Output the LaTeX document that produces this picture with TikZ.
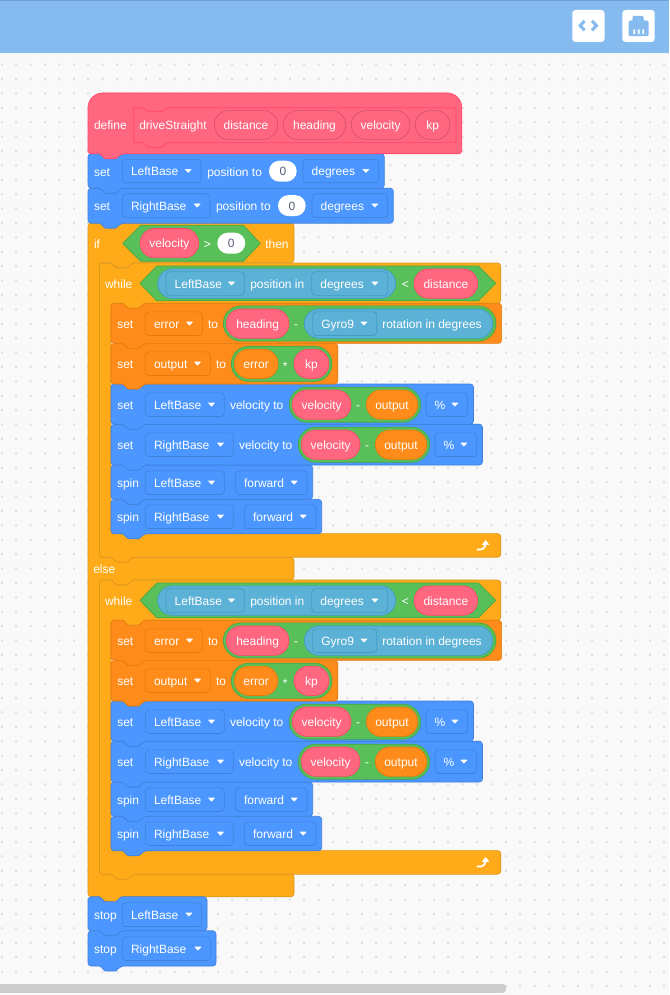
\documentclass[tikz,border=0pt]{standalone}
\usepackage{fontspec}
\setmainfont{Liberation Sans}
\definecolor{bgc}{HTML}{F9F9F9}
\definecolor{dotc}{HTML}{DFDFDF}
\definecolor{barc}{HTML}{86BBF0}
\definecolor{barl}{HTML}{6E9FD8}
\definecolor{scrollc}{HTML}{CCCCCC}
\definecolor{ctrlF}{HTML}{FFAB19}\definecolor{ctrlD}{HTML}{D9951C}
\definecolor{varF}{HTML}{FF8C1A}\definecolor{varD}{HTML}{E47A0C}
\definecolor{motF}{HTML}{4C97FF}\definecolor{motD}{HTML}{4080DB}
\definecolor{myF}{HTML}{FF6680}\definecolor{myD}{HTML}{FF4766}
\definecolor{myE}{HTML}{D9506A}
\definecolor{opF}{HTML}{59C059}\definecolor{opD}{HTML}{45A845}
\definecolor{senF}{HTML}{5CB1D6}\definecolor{senD}{HTML}{3F9CC4}
\definecolor{zeroT}{HTML}{575E75}
\tikzset{
  x=0.75pt,y=-0.75pt,
  blk/.style={line width=0.5pt,line join=round,rounded corners=2.4pt},
  ctrlb/.style={blk,fill=ctrlF,draw=ctrlD},
  varb/.style={blk,fill=varF,draw=varD},
  motb/.style={blk,fill=motF,draw=motD},
  myb/.style={blk,fill=myF,draw=myD},
  ddmot/.style={fill=motF,draw=motD},
  ddvar/.style={fill=varF,draw=varD},
  ddsen/.style={fill=senF,draw=senD},
  pmy/.style={fill=myF,draw=myD,line width=0.5pt},
  parg/.style={fill=myF,draw=myE,line width=0.5pt},
  pvar/.style={fill=varF,draw=varD,line width=0.5pt},
  psen/.style={fill=senF,draw=senD,line width=0.5pt},
  pop/.style={fill=opF,draw=opD,line width=0.5pt},
  pwhite/.style={fill=white,draw=none},
  lbl/.style={inner sep=0pt,outer sep=0pt,font=\fontsize{9}{11}\selectfont},
}
\newcounter{nn}
% left-aligned label: colour optional, x, centre y, text
\newcommand{\lab}[4][white]{\stepcounter{nn}\node[lbl,anchor=base west,text=#1] (t\thenn) at (#2,#3+4.6) {#4};}
\newcommand{\clab}[4][white]{\stepcounter{nn}\node[lbl,anchor=base,text=#1] (t\thenn) at (#2,#3+4.6) {#4};}
\newcommand{\topE}[2]{[rounded corners=0.7pt] -- (#1+12,#2) -- (#1+17,#2+5) -- (#1+28,#2+5) -- (#1+33,#2) [rounded corners=2.4pt]}
\newcommand{\botE}[2]{-- (#1+33,#2) [rounded corners=0.7pt] -- (#1+28,#2+5) -- (#1+17,#2+5) -- (#1+12,#2) [rounded corners=2.4pt]}
\newcommand{\sblock}[5]{\draw[#1] (#2,#4) \topE{#2}{#4} -- (#3,#4) -- (#3,#5) \botE{#2}{#5} -- (#2,#5) -- cycle;}
% dropdown: style, x1, x2, cy, text
\newcommand{\dd}[5]{\draw[#1,line width=0.5pt,rounded corners=2.6pt] (#2,#4-11.8) rectangle (#3,#4+11.8);
  \lab{#2+8.7}{#4}{#5}
  \fill[white,draw=white,line width=0.4pt,line join=round] (#3-15.8,#4-1.7) -- (#3-9.8,#4-1.7) -- (#3-12.8,#4+1.5) -- cycle;}
% pill without text: style, x1, x2, cy, half height
\newcommand{\pillS}[5]{\draw[#1,rounded corners=#5*0.75pt] (#2,#4-#5) rectangle (#3,#4+#5);}
% pill with centred text
\newcommand{\pillT}[6]{\pillS{#1}{#2}{#3}{#4}{#5}\clab{0.5*#2+0.5*#3}{#4}{#6}}
\newcommand{\zero}[3]{\pillS{pwhite}{#1}{#2}{#3}{10.5}\clab[zeroT]{0.5*#1+0.5*#2}{#3}{0}}
\begin{document}
\begin{tikzpicture}
\useasboundingbox (0,0) rectangle (669,995);
\fill[bgc] (0,0) rectangle (669,995);
% dotted grid
\fill[dotc] foreach \i in {0,...,46} { foreach \j in {0,...,64} {
   (1.8+\i*14.4-1,64.7+\j*14.395-1) rectangle ++(2,2) } };
% header bar
\fill[barc] (0,0) rectangle (669,53);
\fill[barl] (0,0) rectangle (669,1.3);
\fill[white!85!barc] (0,53) rectangle (669,54.2);
% code icon
\fill[white,rounded corners=2.4pt] (572.3,10) rectangle (604.5,42);
\draw[barc,line width=2.3pt,miter limit=10] (584.6,20.9) -- (580.2,25.6) -- (584.6,30.3);
\draw[barc,line width=2.3pt,miter limit=10] (592,20.9) -- (596.4,25.6) -- (592,30.3);
% port icon
\fill[white,rounded corners=2.4pt] (622.4,10) rectangle (654.7,42);
\fill[barc,rounded corners=0.8pt] (628.6,36.2) -- (628.6,20.6) -- (632.6,20.6) -- (632.6,15.8) -- (643.6,15.8) -- (643.6,20.6) -- (648.6,20.6) -- (648.6,36.2) -- cycle;
\fill[white] (633.3,29.5) rectangle (635,34) (637.8,29.5) rectangle (639.5,34) (642.3,29.5) rectangle (644,34);
% scrollbar
\fill[scrollc,rounded corners=2.5pt] (-8,984) rectangle (506,992.8);

% ---- if / else C block
\draw[ctrlb] (88,223) \topE{88}{223} -- (294,223) -- (294,262.6) \botE{99.5}{262.6} -- (99.5,262.6)
   -- (99.5,557.3) -- (294,557.3) -- (294,580) \botE{99.5}{580} -- (99.5,580) -- (99.5,874)
   -- (294,874) -- (294,896.8) \botE{88}{896.8} -- (88,896.8) -- cycle;
\lab{94}{243.7}{if}
\draw[pop,line join=round] (122.7,243.4) -- (140.7,225.3) -- (243.3,225.3) -- (260.3,243.4) -- (243.3,261.3) -- (140.7,261.3) -- cycle;
\pillT{pmy}{140}{198.7}{243.2}{14.7}{velocity}
\clab{207.3}{243.4}{>}
\zero{217.3}{245.3}{243.2}
\lab{265.3}{243.7}{then}
\lab{93.3}{568.7}{else}

% ---- the two while loops
\foreach \dy in {0,317} {
\begin{scope}[shift={(0,\dy)}]
\draw[ctrlb] (99.5,263) \topE{99.5}{263} -- (500.8,263) -- (500.8,303.3) \botE{111}{303.3} -- (111,303.3)
   -- (111,533.6) -- (500.8,533.6) -- (500.8,557.2) \botE{99.5}{557.2} -- (99.5,557.2) -- cycle;
\lab{105}{283.7}{while}
\draw[pop,line join=round] (140,283.4) -- (156.7,266) -- (478.3,266) -- (495.7,283.4) -- (478.3,300.8) -- (156.7,300.8) -- cycle;
\pillS{psen}{157.7}{395.7}{283.6}{14.7}
\dd{ddsen}{166}{244.3}{283.6}{LeftBase}
\lab{250.3}{283.7}{position in}
\dd{ddsen}{311.7}{387.7}{283.6}{degrees}
\clab{405.3}{283.6}{<}
\pillT{pmy}{414}{477.7}{283.6}{14.7}{distance}
% loop arrow
\draw[white,line width=1.35pt,line cap=round] (477.5,549.6) .. controls (482,550) and (485.3,548.5) .. (485.3,544);
\fill[white] (481.8,544.8) -- (485.7,540) -- (489.3,544.8) -- cycle;

% spin RightBase
\sblock{motb}{111}{321.7}{499.3}{533.8}
\lab{117}{516.7}{spin}
\dd{ddmot}{145.3}{233.3}{516.7}{RightBase}
\dd{ddmot}{244.3}{316}{516.7}{forward}
% spin LeftBase
\sblock{motb}{111}{312.7}{465}{499.3}
\lab{117}{482.7}{spin}
\dd{ddmot}{145.3}{224.3}{482.7}{LeftBase}
\dd{ddmot}{235.3}{307}{482.7}{forward}
% set RightBase velocity
\sblock{motb}{111}{482.5}{424.2}{465}
\lab{117.3}{444.7}{set}
\dd{ddmot}{145.3}{233.3}{444.7}{RightBase}
\lab{239}{444.7}{velocity to}
\pillS{pop}{298.3}{429.7}{444.7}{17.5}
\pillT{pmy}{301.3}{360}{444.7}{14.7}{velocity}
\clab{367}{444.7}{-}
\pillT{pvar}{375.3}{426.7}{444.7}{14.7}{output}
\dd{ddmot}{435}{476.7}{444.7}{\%}
% set LeftBase velocity
\sblock{motb}{111}{473.5}{384}{424.2}
\lab{117.3}{404.7}{set}
\dd{ddmot}{145.3}{224.3}{404.7}{LeftBase}
\lab{230}{404.7}{velocity to}
\pillS{pop}{289.3}{420.7}{404.7}{17.5}
\pillT{pmy}{292.3}{351}{404.7}{14.7}{velocity}
\clab{358}{404.7}{-}
\pillT{pvar}{366.3}{417.7}{404.7}{14.7}{output}
\dd{ddmot}{426}{467.7}{404.7}{\%}
% set output
\sblock{varb}{111}{337.8}{343.4}{384}
\lab{117.3}{363.7}{set}
\dd{ddvar}{145.3}{210.3}{363.7}{output}
\lab{216}{363.7}{to}
\pillS{pop}{231.3}{332}{363.8}{17.6}
\pillT{pvar}{234.3}{278}{363.8}{14.7}{error}
\clab{285.3}{366}{*}
\pillT{pmy}{294}{329}{363.8}{14.7}{kp}
% set error
\sblock{varb}{111}{501.6}{303.3}{343.4}
\lab{117.3}{323.7}{set}
\dd{ddvar}{145.3}{202.3}{323.7}{error}
\lab{208}{323.7}{to}
\pillS{pop}{223.3}{496}{323.5}{17.6}
\pillT{pmy}{226.3}{289}{323.7}{14.7}{heading}
\clab{296}{323.7}{-}
\pillS{psen}{304.3}{492.7}{323.7}{14.7}
\dd{ddsen}{312.7}{376.7}{323.7}{Gyro9}
\lab{382.3}{323.7}{rotation in degrees}
\end{scope}
}

% ---- stack below the if block
\sblock{motb}{88}{216}{930.8}{966}
\lab{94}{948.7}{stop}
\dd{ddmot}{122.3}{210.7}{948.7}{RightBase}
\sblock{motb}{88}{207}{896.8}{930.8}
\lab{94}{914.7}{stop}
\dd{ddmot}{122.3}{201.7}{914.7}{LeftBase}

% ---- stack above the if block
\sblock{motb}{88}{393.4}{188.2}{223.2}
\lab{94}{205.7}{set}
\dd{ddmot}{122.3}{210}{205.6}{RightBase}
\lab{216}{205.7}{position to}
\zero{278}{305.7}{205.6}
\dd{ddmot}{312}{387.7}{205.6}{degrees}
\sblock{motb}{88}{384.3}{153.6}{188.2}
\lab{94}{171.4}{set}
\dd{ddmot}{122.3}{201}{171}{LeftBase}
\lab{207.3}{171.4}{position to}
\zero{269}{296.7}{171.2}
\dd{ddmot}{303}{378.7}{171}{degrees}

% ---- define hat
\draw[myb,rounded corners=11pt] (88,153.8) -- (88,93) -- (461.8,93) [rounded corners=2.4pt] -- (461.8,153.8) \botE{88}{153.8} -- (88,153.8) -- cycle;
\lab{94}{125}{define}
\draw[myb,rounded corners=1pt] (133.4,107.8) -- (143.4,107.8) -- (147.5,111.3) -- (163,111.3) -- (167.3,107.8) -- (456,107.8) -- (456,142.4)
  -- (167.3,142.4) -- (162,147.6) -- (148.5,147.6) -- (143.4,142.4) -- (133.4,142.4) -- cycle;
\lab{139.3}{125}{driveStraight}
\pillT{parg}{214.3}{277.7}{125}{14.4}{distance}
\pillT{parg}{283.3}{345.7}{125}{14.4}{heading}
\pillT{parg}{351.3}{410}{125}{14.4}{velocity}
\pillT{parg}{415.3}{450}{125}{14.4}{kp}
\end{tikzpicture}
\end{document}
